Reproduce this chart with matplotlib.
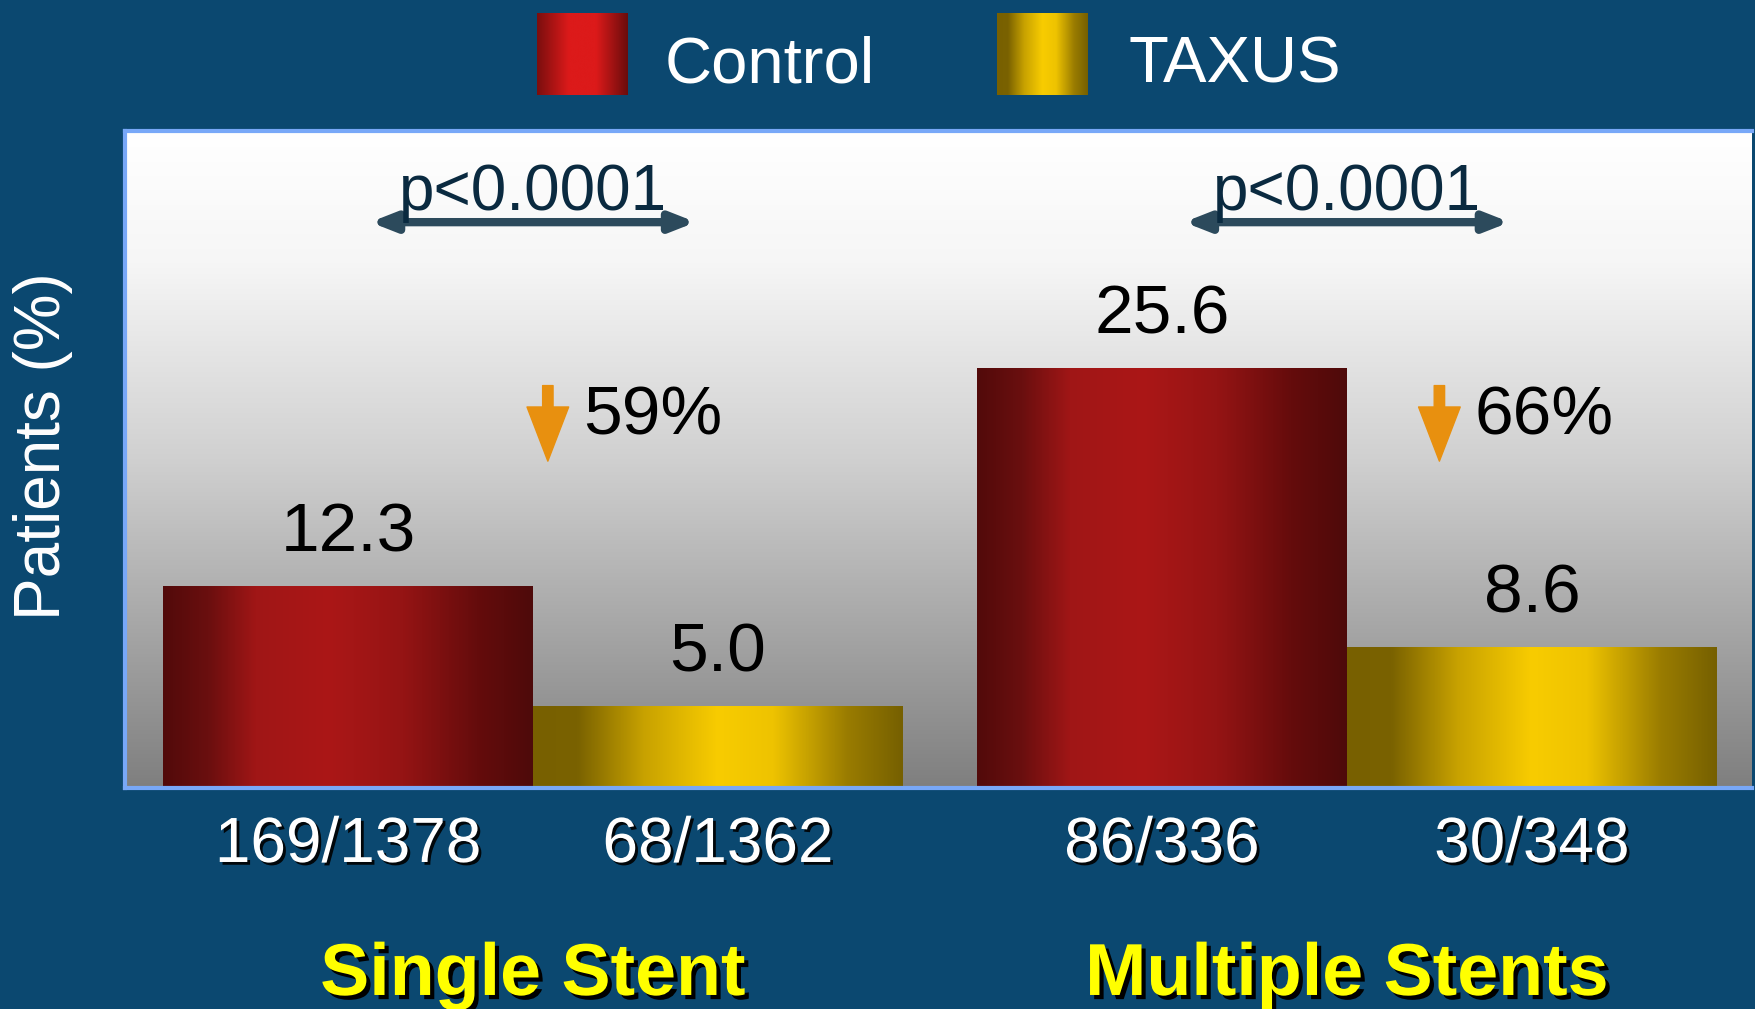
import numpy as np
import matplotlib
matplotlib.use("Agg")
import matplotlib.pyplot as plt
import matplotlib.patheffects as pe
from matplotlib.colors import LinearSegmentedColormap
from matplotlib.transforms import blended_transform_factory

plt.rcParams['font.family'] = ['Liberation Sans', 'DejaVu Sans']

# data
groups = ['Single Stent', 'Multiple Stents']
control = [12.3, 25.6]
taxus = [5.0, 8.6]
control_n = ['169/1378', '86/336']
taxus_n = ['68/1362', '30/348']
reduction = ['59%', '66%']
p_values = ['p<0.0001', 'p<0.0001']
series = ['Control', 'TAXUS']

BG = '#0b4870'
red_cmap = LinearSegmentedColormap.from_list(
    'red', [(0, '#520a0a'), (0.12, '#6a0f0f'), (0.25, '#a01616'), (0.45, '#ab1717'),
            (0.65, '#951414'), (0.85, '#650c0c'), (1, '#4e0a0a')])
gold_cmap = LinearSegmentedColormap.from_list(
    'gold', [(0, '#786000'), (0.12, '#7a6200'), (0.3, '#c8a200'), (0.5, '#f8cc00'),
             (0.65, '#eec300'), (0.85, '#9a7c00'), (1, '#766000')])
legend_red = LinearSegmentedColormap.from_list(
    'lred', [(0, '#7a0e0e'), (0.35, '#dc1a1a'), (0.65, '#dc1a1a'), (1, '#6a0c0c')])
grey_cmap = LinearSegmentedColormap.from_list(
    'grey', [(0, '#ffffff'), (0.2, '#f6f6f6'), (0.5, '#d0d0d0'), (1, '#7f7f7f')])
ramp = np.linspace(0, 1, 256).reshape(1, -1)

fig = plt.figure(figsize=(17.56, 10.09), dpi=100)
fig.patch.set_facecolor(BG)
ax = fig.add_axes([125 / 1756, 221 / 1009, 1627 / 1756, 657 / 1009])

centers = np.array([0.0, 2.2])
width = 1.0
ax.set_xlim(-1.103, 3.295)
ax.set_ylim(0, 40)

# grey vertical gradient for the plot area
ax.imshow(ramp.T, cmap=grey_cmap, aspect='auto', extent=(-1.103, 3.295, 0, 40),
          origin='upper', zorder=0)

bars_c = ax.bar(centers - width / 2, control, width, color='none', zorder=2)
bars_t = ax.bar(centers + width / 2, taxus, width, color='none', zorder=2)
for bars, cmap in [(bars_c, red_cmap), (bars_t, gold_cmap)]:
    for rect in bars:
        x0, y0 = rect.get_x(), rect.get_y()
        im = ax.imshow(ramp, cmap=cmap, aspect='auto', zorder=1,
                       extent=(x0, x0 + rect.get_width(), y0, y0 + rect.get_height()))
        im.set_clip_path(rect)

for rect, v in zip(list(bars_c) + list(bars_t), control + taxus):
    ax.text(rect.get_x() + rect.get_width() / 2, v + 2.1, f'{v:.1f}',
            ha='center', va='baseline', fontsize=50, color='black', zorder=5)

# p-value brackets
for c, p in zip(centers, p_values):
    ax.annotate('', xy=(c - 0.44, 34.45), xytext=(c + 0.44, 34.45),
                arrowprops=dict(arrowstyle='<|-|>,head_length=1.4,head_width=0.55',
                                color='#2c4a5c', lw=6, shrinkA=0, shrinkB=0), zorder=4)
    ax.text(c, 35.2, p, ha='center', va='baseline', fontsize=46, color='#0a2a40', zorder=5)

# reduction arrows
arrow_x = [0.04, 2.45]
for ax_x, r in zip(arrow_x, reduction):
    ax.annotate('', xy=(ax_x, 19.9), xytext=(ax_x, 24.5),
                arrowprops=dict(arrowstyle='simple,head_length=1.3,head_width=1.0,tail_width=0.25',
                                color='#e8900f', shrinkA=0, shrinkB=0, mutation_scale=30), zorder=4)
    ax.text(ax_x + 0.095, 21.5, r, ha='left', va='baseline', fontsize=50, color='black', zorder=5)

ax.set_xticks([])
ax.set_yticks([])
for s in ['left', 'top', 'bottom']:
    ax.spines[s].set_color('#78a8f8')
    ax.spines[s].set_linewidth(3)
ax.spines['right'].set_visible(False)

trans = blended_transform_factory(ax.transData, fig.transFigure)
shadow_w = [pe.withSimplePatchShadow(offset=(2, -2), shadow_rgbFace='black', alpha=0.9)]
for rect, lab in zip(list(bars_c) + list(bars_t), control_n + taxus_n):
    ax.text(rect.get_x() + rect.get_width() / 2, 0.1457, lab, transform=trans,
            ha='center', va='baseline', fontsize=46, color='white', path_effects=shadow_w)

shadow_y = [pe.withSimplePatchShadow(offset=(3, -3), shadow_rgbFace='black', alpha=1.0)]
for c, g in zip(centers, groups):
    ax.text(c, 0.0139, g, transform=trans, ha='center', va='baseline', fontsize=53,
            fontweight='bold', color='#ffff00', path_effects=shadow_y)

fig.text(0.0245, 0.558, 'Patients (%)', rotation=90, ha='center', va='center',
         fontsize=46, color='white')

# legend swatches
for left, cmap, name, tx in [(537, legend_red, series[0], 665), (997, gold_cmap, series[1], 1129)]:
    sw = fig.add_axes([left / 1756, 914 / 1009, 91 / 1756, 82 / 1009])
    sw.imshow(ramp, cmap=cmap, aspect='auto')
    sw.axis('off')
    fig.text(tx / 1756, 0.9187, name, ha='left', va='baseline', fontsize=47, color='white')

fig.savefig('out.png', dpi=100, facecolor=BG)
